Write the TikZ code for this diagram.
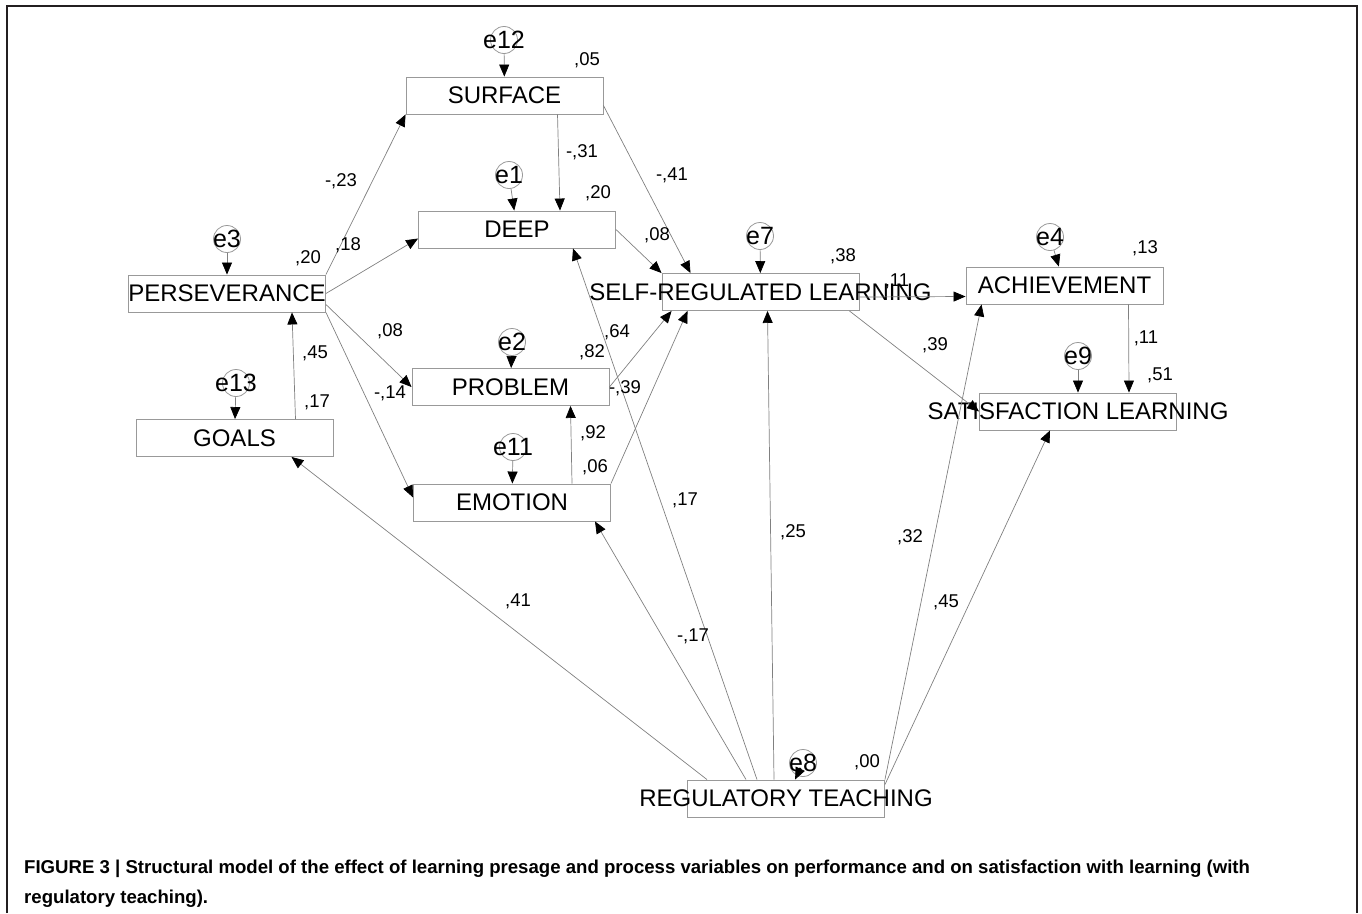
\documentclass[tikz,border=0pt]{standalone}
\usepackage{fontspec}
\setmainfont{Liberation Sans}
\usepackage{tikz}
\usetikzlibrary{arrows.meta}

\definecolor{linegray}{gray}{0.5}
\definecolor{boxgray}{gray}{0.6}
\definecolor{framecol}{HTML}{231F20}

\begin{document}
\begin{tikzpicture}[x=1pt, y=-1pt,
		var/.style={draw=boxgray, line width=0.9pt, minimum width=197pt, minimum height=37pt, inner sep=0pt, font=\fontsize{24}{24}\selectfont},
		err/.style={draw=boxgray, line width=0.8pt, circle, minimum size=27pt, inner sep=0pt},
		efont/.style={font=\fontsize{25}{25}\selectfont, inner sep=0pt},
		coef/.style={font=\fontsize{18.5}{18.5}\selectfont, inner sep=0pt},
		reg/.style={draw=linegray, line width=0.7pt, -{Triangle[length=12pt, width=10pt, color=black, fill=black]}}]
		
		\useasboundingbox (0,0) rectangle (1362,913);
		\draw[framecol, line width=2pt] (7,913) -- (7,6) -- (1357,6) -- (1357,913);
		
		%
		\node[var] (surf) at (504.5,95.5) {\makebox[0pt]{SURFACE}};
		\node[var] (deep) at (517,229.5) {\makebox[0pt]{DEEP}};
		\node[var] (perse) at (227,293.5) {\makebox[0pt]{PERSEVERANCE}};
		\node[var] (goals) at (234.5,438) {\makebox[0pt]{GOALS}};
		\node[var] (prob) at (510.5,387) {\makebox[0pt]{PROBLEM}};
		\node[var] (emo) at (512,502.5) {\makebox[0pt]{EMOTION}};
		\node[var] (srl) at (760.5,292) {\makebox[0pt]{SELF-REGULATED LEARNING}};
		\node[var] (ach) at (1064.5,285.5) {\makebox[0pt]{ACHIEVEMENT}};
		\node[var] (sat) at (1078,411.5) {\makebox[0pt]{SATISFACTION LEARNING}};
		\node[var] (rt) at (786,798.5) {\makebox[0pt]{REGULATORY TEACHING}};
		
		%
		\foreach \n/\x/\y/\v in {e12/504/40/surf, e1/509/175/deep, e3/227/239/perse, e13/236/383/goals, e2/512/342/prob, e11/513/447/emo, e7/760/236/srl, e4/1050/237/ach, e9/1078/356/sat, e8/803/763/rt} {
			\node[err, label={[efont]center:\n}] (\n) at (\x,\y) {};
			\draw[reg] (\n) -- (\v);
		}
		
		%
		\draw[reg] (perse.north east) -- (surf.south west);
		\draw[reg] (perse.east) -- ([yshift=-9pt]deep.west);
		\draw[reg] ([yshift=-11pt]perse.east) -- (prob.west);
		\draw[reg] (perse.south east) -- ([yshift=5pt]emo.west);
		\draw[reg] ([xshift=61pt]goals.north) -- ([xshift=65pt]perse.south);
		\draw[reg] ([xshift=53pt]surf.south) -- ([xshift=43pt]deep.north);
		\draw[reg] ([yshift=-10pt]surf.east) -- ([xshift=-70pt]srl.north);
		\draw[reg] (deep.east) -- (srl.north west);
		\draw[reg] (prob.east) -- ([xshift=10pt]srl.south west);
		\draw[reg] (emo.north east) -- ([xshift=26pt]srl.south west);
		\draw[reg] ([xshift=60pt]emo.north) -- ([xshift=60pt]prob.south);
		\draw[reg] ([xshift=-79pt]rt.north) -- ([xshift=57pt]goals.south);
		\draw[reg] ([xshift=-40pt]rt.north) -- ([xshift=83pt]emo.south);
		\draw[reg] ([xshift=-29pt]rt.north) -- ([xshift=56pt]deep.south);
		\draw[reg] ([xshift=-12pt]rt.north) -- ([xshift=7pt]srl.south);
		\draw[reg] (rt.north east) -- ([xshift=16pt]ach.south west);
		\draw[reg] ([yshift=-5pt]rt.north east) -- ([xshift=-28pt]sat.south);
		\draw[reg] ([yshift=-5pt]srl.east) -- ([yshift=-11pt]ach.west);
		\draw[reg] ([xshift=-10pt]srl.south east) -- (sat.west);
		\draw[reg] ([xshift=64pt]ach.south) -- ([xshift=51pt]sat.north);
		
		%
		\foreach \x/\y/\t [count=\i] in {587/60/{,05}, 582/152/{-,31}, 672/175/{-,41}, 598/193/{,20}, 341/181/{-,23}, 348/245/{,18}, 308/258/{,20}, 390/331/{,08}, 390/393/{-,14}, 315/353/{,45}, 317/402/{,17}, 592/352/{,82}, 617/332/{,64}, 625/388/{-,39}, 593/433/{,92}, 595/467/{,06}, 657/235/{,08}, 843/256/{,38}, 897/281/{,11}, 1145/248/{,13}, 1146/338/{,11}, 1160/375/{,51}, 935/345/{,39}, 685/500/{,17}, 793/532/{,25}, 910/537/{,32}, 946/602/{,45}, 518/601/{,41}, 693/636/{-,17}, 867/762/{,00}} {
			\node[coef] (c\i) at (\x,\y) {\t};
		}
		
		%
		\node[anchor=north west, align=left, inner sep=0pt, font=\bfseries\fontsize{18.6}{30}\selectfont] (cap) at (24,860) {FIGURE 3 | Structural model of the effect of learning presage and process variables on performance and on satisfaction with learning (with\\regulatory teaching).};
		
	\end{tikzpicture}
\end{document}
